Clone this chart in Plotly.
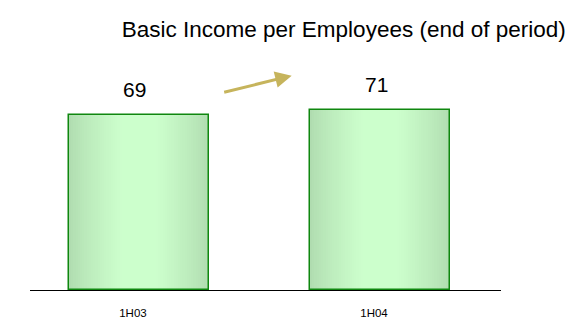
import plotly.graph_objects as go

# Data
categories = ["1H03", "1H04"]
values = [69, 71]
title_text = "Basic Income per Employees (end of period)"

BAR_WIDTH = 0.58
EDGE_RGB = (176, 220, 176)
CENTER_RGB = (204, 255, 204)
STEPS = 28

fig = go.Figure()

# Horizontal gradient: stacked overlay bars, widest (darkest) first, narrowest (lightest) last
for k in range(STEPS):
    t = k / (STEPS - 1)
    w = BAR_WIDTH * (1 - 0.85 * t)
    mix = min(1.0, t * 1.15) ** 0.8
    r, g, b = (round(e + (c - e) * mix) for e, c in zip(EDGE_RGB, CENTER_RGB))
    fig.add_trace(go.Bar(
        x=categories, y=values, width=w,
        marker=dict(color=f"rgb({r},{g},{b})", line=dict(width=0)),
        hoverinfo="skip", showlegend=False,
    ))

# Outline on top
fig.add_trace(go.Bar(
    x=categories, y=values, width=BAR_WIDTH,
    marker=dict(color="rgba(0,0,0,0)", line=dict(color="#0f870f", width=1.5)),
    showlegend=False,
))

# Value labels above bars
for c, v in zip(categories, values):
    fig.add_annotation(
        x=c, y=v, xref="x", yref="y", text=str(v), showarrow=False,
        yanchor="bottom", yshift=12, xshift=-4,
        font=dict(family="Liberation Sans, Arial, sans-serif", size=21, color="#000000"),
    )

# Growth arrow between the bars
fig.add_annotation(
    x=0.5556, y=1.056, xref="paper", yref="paper",
    ax=-69, ay=17, axref="pixel", ayref="pixel",
    text="", showarrow=True, arrowhead=2, arrowsize=1.1, arrowwidth=3,
    arrowcolor="#c6b45c", standoff=0,
)

fig.update_layout(
    width=572, height=321,
    margin=dict(l=30, r=71, t=87, b=31, autoexpand=False),
    paper_bgcolor="white", plot_bgcolor="white",
    barmode="overlay",
    bargap=0,
    title=dict(
        text=title_text, xref="container", yref="container",
        x=0.601, y=0.91, xanchor="center", yanchor="middle",
        font=dict(family="Liberation Sans, Arial, sans-serif", size=22.5, color="#000000"),
    ),
    xaxis=dict(
        type="category", range=[-0.452, 1.502],
        showline=True, linecolor="#000000", linewidth=1,
        showgrid=False, zeroline=False, ticks="", automargin=False,
        tickfont=dict(family="Liberation Sans, Arial, sans-serif", size=11.5, color="#000000"),
        ticklabelshift=-6, ticklabelstandoff=12,
    ),
    yaxis=dict(range=[0, 80], visible=False, showgrid=False, zeroline=False),
    showlegend=False,
)

fig.write_html("out.html")
